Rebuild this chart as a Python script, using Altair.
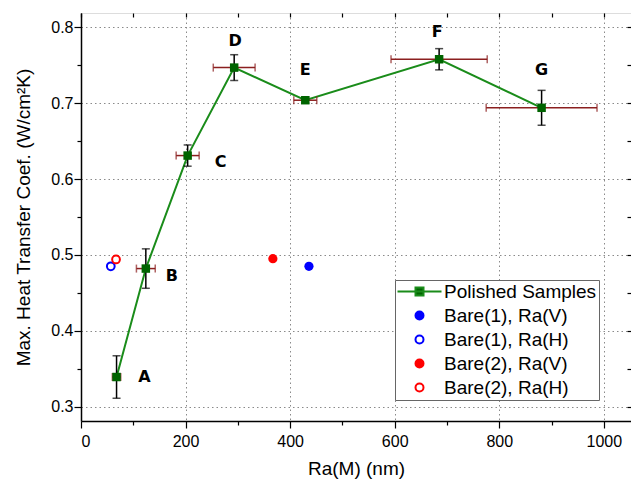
import altair as alt
import pandas as pd

# ---- data ----
labels = ["A", "B", "C", "D", "E", "F", "G"]
ra = [68, 124, 204, 293, 429, 685, 881]
htc = [0.339, 0.482, 0.631, 0.747, 0.704, 0.758, 0.694]
ra_err = [8, 18, 22, 40, 22, 92, 106]
htc_err = [0.028, 0.026, 0.014, 0.017, 0.004, 0.014, 0.023]

bare_series = ["Bare(1), Ra(V)", "Bare(1), Ra(H)", "Bare(2), Ra(V)", "Bare(2), Ra(H)"]
bare_ra = [436, 57, 367, 67]
bare_htc = [0.485, 0.485, 0.495, 0.494]
bare_filled = [True, False, True, False]
bare_color = ["#0000ff", "#0000ff", "#ff0000", "#ff0000"]

legend_series = ["Polished Samples"] + bare_series

x_ticks = [0, 100, 200, 300, 400, 500, 600, 700, 800, 900, 1000]
y_ticks = [0.3, 0.35, 0.4, 0.45, 0.5, 0.55, 0.6, 0.65, 0.7, 0.75, 0.8]

pol = pd.DataFrame({"label": labels, "ra": ra, "htc": htc, "ra_err": ra_err, "htc_err": htc_err})
pol["ra_lo"] = pol["ra"] - pol["ra_err"]
pol["ra_hi"] = pol["ra"] + pol["ra_err"]
pol["htc_lo"] = pol["htc"] - pol["htc_err"]
pol["htc_hi"] = pol["htc"] + pol["htc_err"]

bare = pd.DataFrame({"series": bare_series, "ra": bare_ra, "htc": bare_htc,
                     "filled": bare_filled, "color": bare_color})
leg = pd.DataFrame({"series": legend_series})

W, H = 550, 408
FONT = "Liberation Sans"
GREEN_LINE = "#1a8c1a"
GREEN_SQ = "#006400"
DARKRED = "#8b1f1f"

xs = alt.Scale(domain=[0, 1052], nice=False, zero=False)
ys = alt.Scale(domain=[0.281, 0.819], nice=False, zero=False)

x_axis = alt.Axis(
    values=x_ticks, title="Ra(M) (nm)", format="d",
    labelExpr="datum.value % 200 === 0 ? datum.label : ''",
    tickSize={"condition": {"test": "datum.value % 200 === 0", "value": 7}, "value": 4},
    grid=True, gridDash=[1.5, 3], gridColor="#8a8a8a", gridWidth=1,
    gridOpacity={"condition": {"test": "datum.value % 200 === 0 && datum.value > 0", "value": 1}, "value": 0},
    domainColor="black", domainWidth=1.5, tickColor="black", tickWidth=1.2,
    labelFont=FONT, labelFontSize=16, labelColor="black", labelPadding=5,
    titleFont=FONT, titleFontSize=19, titleFontWeight="normal", titleColor="black", titlePadding=10,
)
y_axis = alt.Axis(
    values=y_ticks, title="Max. Heat Transfer Coef. (W/cm²K)", format=".1f",
    labelExpr="round(datum.value * 100) % 10 === 0 ? datum.label : ''",
    tickSize={"condition": {"test": "round(datum.value * 100) % 10 === 0", "value": 7}, "value": 4},
    grid=True, gridDash=[1.5, 3], gridColor="#8a8a8a", gridWidth=1,
    gridOpacity={"condition": {"test": "round(datum.value * 100) % 10 === 0", "value": 1}, "value": 0},
    domainColor="black", domainWidth=1.5, tickColor="black", tickWidth=1.2,
    labelFont=FONT, labelFontSize=16, labelColor="black", labelPadding=1,
    titleFont=FONT, titleFontSize=19, titleFontWeight="normal", titleColor="black", titlePadding=17,
)

def X(f):
    return alt.X(f, type="quantitative", scale=xs, axis=x_axis)

def Y(f):
    return alt.Y(f, type="quantitative", scale=ys, axis=y_axis)

base = alt.Chart(pol)

line = base.mark_line(color=GREEN_LINE, strokeWidth=2).encode(x=X("ra"), y=Y("htc"))

xerr = base.mark_rule(color=DARKRED, strokeWidth=1.5).encode(x=X("ra_lo"), x2="ra_hi", y=Y("htc"))
xcap_lo = base.mark_tick(color=DARKRED, orient="vertical", size=8, thickness=1.5).encode(x=X("ra_lo"), y=Y("htc"))
xcap_hi = base.mark_tick(color=DARKRED, orient="vertical", size=8, thickness=1.5).encode(x=X("ra_hi"), y=Y("htc"))

yerr = base.mark_rule(color="black", strokeWidth=1.5).encode(x=X("ra"), y=Y("htc_lo"), y2="htc_hi")
ycap_lo = base.mark_tick(color="black", orient="horizontal", size=8, thickness=1.5).encode(x=X("ra"), y=Y("htc_lo"))
ycap_hi = base.mark_tick(color="black", orient="horizontal", size=8, thickness=1.5).encode(x=X("ra"), y=Y("htc_hi"))

squares = base.mark_square(size=72, color=GREEN_SQ, opacity=1).encode(x=X("ra"), y=Y("htc"))

bare_full = alt.Chart(bare).transform_filter("datum.filled").mark_circle(size=85, opacity=1).encode(
    x=X("ra"), y=Y("htc"), color=alt.Color("color:N", scale=None))
bare_open = alt.Chart(bare).transform_filter("!datum.filled").mark_point(
    size=60, strokeWidth=2, opacity=1, filled=False).encode(
    x=X("ra"), y=Y("htc"), color=alt.Color("color:N", scale=None))

offsets = {"A": (28, 0), "B": (26, 7), "C": (33, 6), "D": (1, -27),
           "E": (0, -30), "F": (-2, -27), "G": (0, -38)}
texts = []
for lab in labels:
    dx, dy = offsets[lab]
    texts.append(
        base.transform_filter(alt.datum.label == lab).mark_text(
            font="DejaVu Sans", fontSize=16, fontWeight="bold", color="black",
            align="center", baseline="middle", dx=dx, dy=dy
        ).encode(x=X("ra"), y=Y("htc"), text="label:N")
    )

legend_cfg = alt.Legend(
    title=None, orient="none", legendX=314, legendY=267,
    strokeColor="#666666", fillColor="white", padding=2,
    symbolOffset=13, labelOffset=15, rowPadding=4,
    labelFont=FONT, labelFontSize=19, labelColor="black",
    symbolSize=64, symbolStrokeWidth=2, symbolOpacity=1,
)
shape_range = ["M-5.5,0H5.5M-1,-1H1V1H-1Z", "circle", "circle", "circle", "circle"]
fill_range = [GREEN_SQ, "#0000ff", "#ffffff", "#ff0000", "#ffffff"]
stroke_range = [GREEN_LINE, "#0000ff", "#0000ff", "#ff0000", "#ff0000"]

legend_layer = alt.Chart(leg).mark_point(opacity=0, filled=True).encode(
    shape=alt.Shape("series:N", scale=alt.Scale(domain=legend_series, range=shape_range), legend=legend_cfg),
    fill=alt.Fill("series:N", scale=alt.Scale(domain=legend_series, range=fill_range), legend=legend_cfg),
    stroke=alt.Stroke("series:N", scale=alt.Scale(domain=legend_series, range=stroke_range), legend=legend_cfg),
)

main = alt.layer(line, xerr, xcap_lo, xcap_hi, yerr, ycap_lo, ycap_hi, squares,
                 bare_full, bare_open, *texts, legend_layer)

# mirrored inward ticks on top and right frame
frame_ticks = alt.Chart(pol).mark_point(opacity=0).encode(
    x=alt.X("ra:Q", scale=xs, axis=alt.Axis(orient="bottom", offset=-H, labels=False, title=None,
                                             grid=False, domain=False, values=x_ticks, tickSize=4,
                                             tickColor="black", tickWidth=1.2)),
    y=alt.Y("htc:Q", scale=ys, axis=alt.Axis(orient="left", offset=-W, labels=False, title=None,
                                              grid=False, domain=False, values=y_ticks, tickSize=4,
                                              tickColor="black", tickWidth=1.2)),
)

chart = alt.layer(main, frame_ticks).resolve_scale(x="independent", y="independent").properties(
    width=W, height=H,
    autosize=alt.AutoSizeParams(type="none"),
    padding={"left": 73, "top": 5, "right": 0, "bottom": 63},
).configure_view(stroke="black", strokeWidth=1.5).configure(background="white")

chart.save("out.html", embed_options={"renderer": "svg", "actions": False})
